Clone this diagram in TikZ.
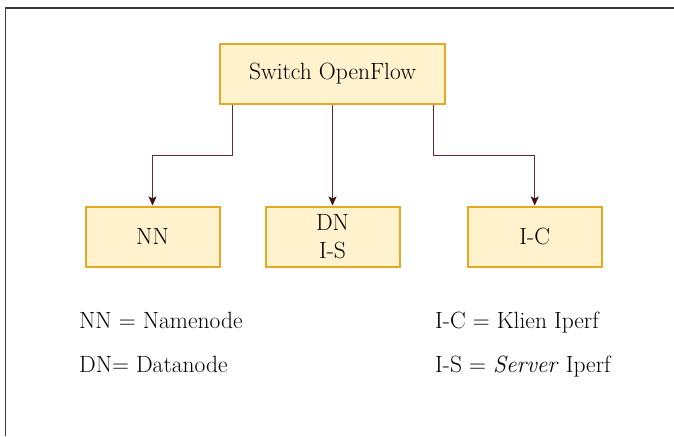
\documentclass[tikz,border=0pt]{standalone}
\usepackage{fontspec}
\usetikzlibrary{arrows.meta}
\definecolor{boxfill}{HTML}{FFF2CC}
\definecolor{boxline}{HTML}{E2A925}
\definecolor{wire}{HTML}{5A2E2E}
\definecolor{tipcol}{HTML}{3D1010}
\definecolor{framecol}{HTML}{3A3A3A}
\begin{document}
\begin{tikzpicture}[x=1pt,y=-1pt,
  box/.style={draw=boxline, fill=boxfill, line width=2pt, inner sep=0pt,
    minimum width=134pt, minimum height=60pt, align=center,
    font=\fontsize{23.5}{28}\selectfont},
  legend/.style={inner sep=0pt, font=\fontsize{23.5}{28}\selectfont},
  conn/.style={draw=wire, line width=1pt,
    -{Stealth[length=9pt,width=8pt,inset=2pt,color=tipcol]}},
  framestyle/.style={draw=framecol, line width=1.6pt}]
\useasboundingbox (0,0) rectangle (674,436);
\draw[framestyle] (5.5,436) -- (5.5,8) -- (674,8);
\node[box, minimum width=225pt] (sw) at (332.5,74) {Switch OpenFlow};
\node[box] (nn) at (152.5,236.5) {NN};
\node[box] (dn) at (332.5,236.5) {DN\\I-S};
\node[box] (ic) at (534.7,236.5) {I-C};
\draw[conn] ([xshift=13pt]sw.south west) -- ++(0,50) -| (nn.north);
\draw[conn] (sw.south) -- (dn.north);
\draw[conn] ([xshift=-13pt]sw.south east) -- ++(0,50) -| (ic.north);
\node[legend, anchor=base west] (l1) at (79,328) {NN = Namenode};
\node[legend, anchor=base west] (l2) at (79,372) {DN= Datanode};
\node[legend, anchor=base west] (l3) at (435,328) {I-C = Klien Iperf};
\node[legend, anchor=base west] (l4) at (435,372) {I-S = \textit{Server} Iperf};
\end{tikzpicture}
\end{document}
